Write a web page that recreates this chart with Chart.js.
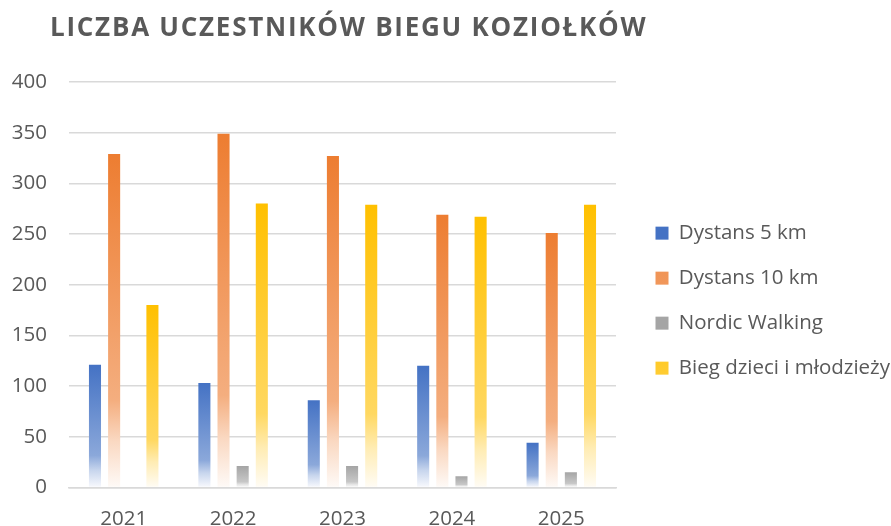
<!DOCTYPE html>
<html>
<head>
<meta charset="utf-8">
<script src="https://cdn.jsdelivr.net/npm/chart.js@4"></script>
<style>
  html, body { margin: 0; padding: 0; background: #fff; }
  #wrap { width: 891px; height: 526px; }
</style>
</head>
<body>
<div id="wrap"><canvas id="chart"></canvas></div>
<script>
/* Data */
const TITLE        = 'LICZBA UCZESTNIKÓW BIEGU KOZIOŁKÓW';
const YEARS        = ['2021', '2022', '2023', '2024', '2025'];
const SERIES_NAMES = ['Dystans 5 km', 'Dystans 10 km', 'Nordic Walking', 'Bieg dzieci i młodzieży'];
const DIST_5KM     = [121, 103, 86, 120, 44];
const DIST_10KM    = [329, 349, 327, 269, 251];
const NORDIC       = [0, 21, 21, 11, 15];
const KIDS         = [180, 280, 279, 267, 279];
const Y_TICKS      = [0, 50, 100, 150, 200, 250, 300, 350, 400];

const SERIES_COLORS = ['#4472c4', '#ed7d31', '#a5a5a5', '#ffc000'];
const TEXT_COLOR = '#595959';
const GRID_COLOR = '#d9d9d9';
const FONT = '"Open Sans", "DejaVu Sans", sans-serif';

/* mix a hex colour with white; t = share of colour */
function tint(hex, t) {
  const n = parseInt(hex.slice(1), 16);
  const r = (n >> 16) & 255, g = (n >> 8) & 255, b = n & 255;
  const m = c => Math.round(c * t + 255 * (1 - t));
  return `rgb(${m(r)},${m(g)},${m(b)})`;
}

/* Excel-like gradient: full colour at top, fading to white at the base */
function barFill(ctx) {
  const base = SERIES_COLORS[ctx.datasetIndex];
  const chart = ctx.chart;
  if (ctx.type !== 'data' || !chart.chartArea || !chart.scales.y) return base;
  const y = chart.scales.y;
  const top = y.getPixelForValue(ctx.raw);
  const bottom = y.getPixelForValue(0);
  if (!isFinite(top) || bottom - top < 1) return base;
  const g = chart.ctx.createLinearGradient(0, top, 0, bottom);
  g.addColorStop(0,    base);
  g.addColorStop(0.74, tint(base, 0.62));
  g.addColorStop(0.86, tint(base, 0.3));
  g.addColorStop(1,    tint(base, 0.04));
  return g;
}

/* Title drawn by hand so it can carry the wide letter spacing of the original */
const spacedTitle = {
  id: 'spacedTitle',
  afterDraw(chart) {
    const c = chart.ctx;
    c.save();
    c.font = `bold 26px ${FONT}`;
    c.fillStyle = TEXT_COLOR;
    c.textAlign = 'left';
    c.textBaseline = 'alphabetic';
    c.letterSpacing = '1.75px';
    c.fillText(TITLE, 50, 36);
    c.restore();
  },
};

const seriesValues = [DIST_5KM, DIST_10KM, NORDIC, KIDS];

new Chart(document.getElementById('chart'), {
  type: 'bar',
  data: {
    labels: YEARS,
    datasets: SERIES_NAMES.map((name, i) => ({
      label: name,
      data: seriesValues[i],
      backgroundColor: barFill,
      borderWidth: 0,
      categoryPercentage: 0.7,
      barPercentage: 0.63,
    })),
  },
  plugins: [spacedTitle],
  options: {
    responsive: true,
    maintainAspectRatio: false,
    animation: false,
    layout: { padding: { left: 0, right: -9, top: 82, bottom: -24 } },
    plugins: {
      title: { display: false },
      legend: {
        position: 'right',
        align: 'start',
        maxWidth: 400,
        /* empty title only pushes the items down to where they sit in the original */
        title: { display: true, text: '', padding: { top: 0, bottom: 102 } },
        labels: {
          color: TEXT_COLOR,
          font: { family: FONT, size: 20.5 },
          boxWidth: 13,
          boxHeight: 13,
          padding: 24.5,
        },
      },
      tooltip: { enabled: false },
    },
    scales: {
      x: {
        grid: { display: false, drawTicks: false },
        border: { color: GRID_COLOR, width: 1.5 },
        ticks: { color: TEXT_COLOR, font: { family: FONT, size: 20.5 }, padding: 19 },
      },
      y: {
        min: 0,
        max: 400,
        afterBuildTicks: axis => { axis.ticks = Y_TICKS.map(v => ({ value: v })); },
        afterFit: axis => { axis.width = 69; },
        grid: { color: GRID_COLOR, lineWidth: 1.5, drawTicks: false },
        border: { display: false },
        ticks: { color: TEXT_COLOR, font: { family: FONT, size: 20.5 }, padding: 22 },
      },
      /* empty spacer between the plot and the legend */
      gap: {
        position: 'right',
        afterFit: axis => { axis.width = 15; },
        grid: { display: false, drawTicks: false },
        border: { display: false },
        ticks: { display: false },
      },
    },
  },
});
</script>
</body>
</html>
